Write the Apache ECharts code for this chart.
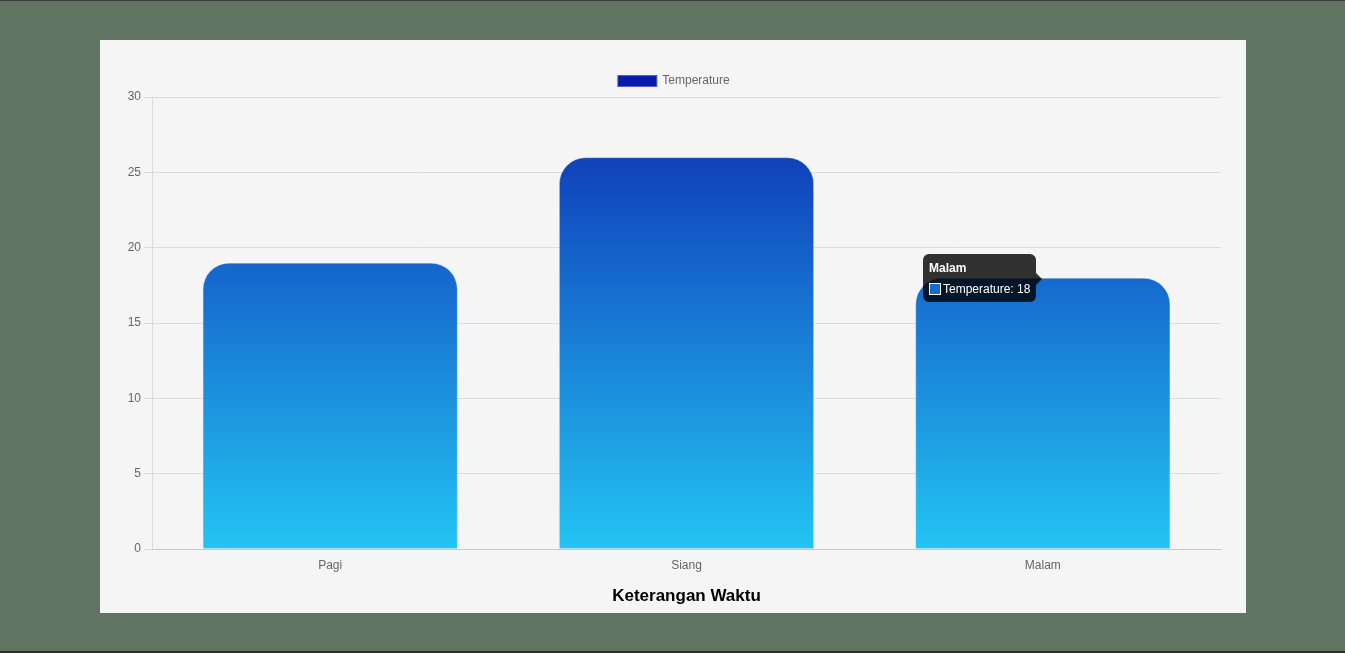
<!DOCTYPE html>
<html>
<head>
<meta charset="utf-8">
<script src="https://cdn.jsdelivr.net/npm/echarts@6/dist/echarts.min.js"></script>
<style>
  html, body { margin: 0; padding: 0; width: 1345px; height: 653px; overflow: hidden; }
  body { background: #617462; position: relative; }
  #topline { position: absolute; left: 0; top: 0; width: 1345px; height: 1px; background: #3b3b42; }
  #botline { position: absolute; left: 0; top: 651px; width: 1345px; height: 2px; background: #2e2a2e; }
  #panel { position: absolute; left: 100px; top: 40px; width: 1146px; height: 573px; background: #f5f5f5; }
</style>
</head>
<body>
<div id="topline"></div>
<div id="panel"></div>
<div id="botline"></div>
<script>
const categories = ['Pagi', 'Siang', 'Malam'];
const temperature = [19, 26, 18];
const seriesName = 'Temperature';
const xAxisTitle = 'Keterangan Waktu';
const highlightIndex = 2;

const chart = echarts.init(document.getElementById('panel'), null, { renderer: 'canvas' });
const FONT = 'Liberation Sans, Arial, Helvetica, sans-serif';

const grad = new echarts.graphic.LinearGradient(0, 0, 0, 509, [
  { offset: 0, color: '#0a1aab' },
  { offset: 1, color: '#23c4f3' }
], true);

chart.setOption({
  animation: false,
  backgroundColor: 'transparent',
  textStyle: { fontFamily: FONT },
  legend: {
    top: 34,
    left: 'center',
    padding: 0,
    itemWidth: 40,
    itemHeight: 12,
    icon: 'rect',
    textStyle: { fontSize: 12, color: '#666', fontFamily: FONT },
    data: [{ name: seriesName, itemStyle: { color: '#0a1aab' } }]
  },
  grid: { left: 52, right: 25, top: 57, bottom: 64, containLabel: false },
  xAxis: {
    type: 'category',
    data: categories,
    name: xAxisTitle,
    nameLocation: 'middle',
    nameGap: 39,
    nameTextStyle: { fontSize: 17, fontWeight: 'bold', color: '#000', fontFamily: FONT },
    axisLine: { lineStyle: { color: '#c8c8c8' } },
    axisTick: { show: false },
    axisLabel: { fontSize: 12, color: '#666', margin: 11, fontFamily: FONT },
    splitLine: { show: false }
  },
  yAxis: {
    type: 'value',
    min: 0,
    max: 30,
    interval: 5,
    axisLine: { show: true, lineStyle: { color: '#dcdcdc' } },
    axisTick: { show: true, length: 8, lineStyle: { color: '#dcdcdc' } },
    axisLabel: { fontSize: 12, color: '#666', margin: 11, fontFamily: FONT },
    splitLine: { show: true, lineStyle: { color: '#dcdcdc' } }
  },
  tooltip: {
    trigger: 'item',
    triggerOn: 'none',
    alwaysShowContent: true,
    transitionDuration: 0,
    backgroundColor: 'rgba(0,0,0,0.8)',
    borderWidth: 0,
    padding: [7, 6, 6, 6],
    textStyle: { color: '#fff', fontSize: 12, fontFamily: FONT },
    extraCssText: 'border-radius:6px;box-shadow:none;',
    position: function (point, params, dom, rect, size) {
      const p = chart.convertToPixel({ seriesIndex: 0 }, [params.dataIndex, params.value]);
      return [p[0] - size.contentSize[0] - 7, p[1] - size.contentSize[1] / 2];
    },
    formatter: function (params) {
      return '<div style="position:relative;font-family:' + FONT + ';font-size:12px;line-height:14px;color:#fff;">' +
        '<div style="font-weight:bold;margin-bottom:7px;">' + params.name + '</div>' +
        '<div style="white-space:nowrap;"><span style="display:inline-block;width:10px;height:10px;background:#1a6acd;border:1px solid #fff;vertical-align:-2px;margin-right:2px;"></span>' +
        params.seriesName + ': ' + params.value + '</div>' +
        '<div style="position:absolute;right:-18px;top:50%;margin-top:-6px;width:0;height:0;border:6px solid transparent;border-left-color:rgba(0,0,0,0.8);"></div>' +
        '</div>';
    }
  },
  series: [{
    name: seriesName,
    type: 'bar',
    data: temperature,
    barWidth: '71.6%',
    itemStyle: {
      color: grad,
      borderRadius: [26, 26, 0, 0],
      borderColor: 'rgba(220,235,250,0.35)',
      borderWidth: 1
    },
    emphasis: { disabled: true }
  }]
});

chart.dispatchAction({ type: 'showTip', seriesIndex: 0, dataIndex: highlightIndex });
</script>
</body>
</html>
